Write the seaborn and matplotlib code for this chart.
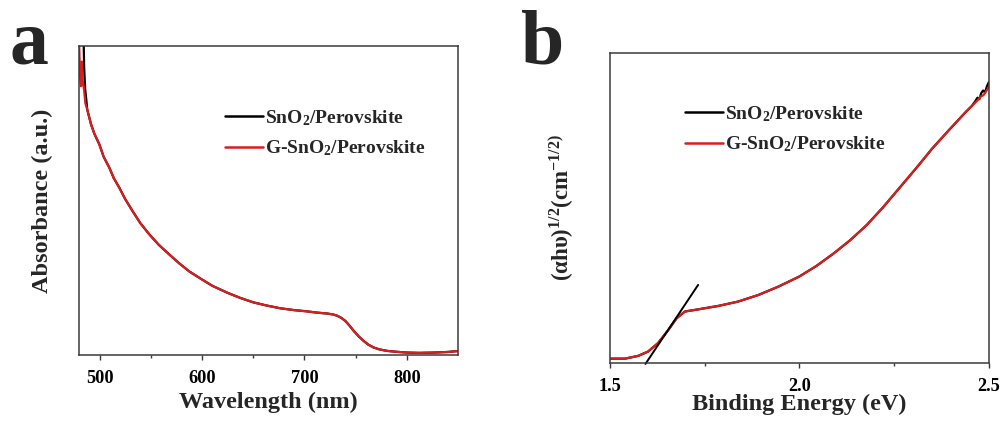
import numpy as np
import pandas as pd
import matplotlib
matplotlib.use("Agg")
import matplotlib.pyplot as plt
import seaborn as sns

# ---------------- data ----------------
# Panel a: absorbance (normalised units) vs wavelength (nm)
wl_head_black = [484.3, 485.0, 486.0, 487.0]
abs_head_black = [1.05, 0.93, 0.86, 0.83]
wl_head_red = [480.0, 481.0, 482.0, 482.8, 483.5, 484.2, 485.2, 486.2]
abs_head_red = [1.02, 0.90, 0.87, 0.95, 0.89, 0.877, 0.85, 0.815]
wl_common = [488.0, 491.7, 495.0, 499.8, 504.0, 509.6, 514.0, 519.4, 525.0,
             532.4, 540.0, 548.7, 558.0, 568.2, 578.0, 587.8, 598.2, 610.0,
             624.3, 637.0, 650.3, 663.0, 676.4, 690.0, 702.5, 712.0, 722.1,
             728.0, 731.9, 736.0, 740.0, 744.0, 748.1, 753.0, 757.9, 762.5,
             767.6, 773.0, 780.7, 790.0, 800.3, 812.0, 826.3, 840.0, 851.7]
abs_common = [0.795, 0.747, 0.716, 0.682, 0.642, 0.606, 0.572, 0.541, 0.505,
              0.465, 0.426, 0.390, 0.356, 0.325, 0.296, 0.270, 0.248, 0.224,
              0.202, 0.185, 0.170, 0.160, 0.151, 0.145, 0.141, 0.137, 0.134,
              0.131, 0.127, 0.120, 0.110, 0.095, 0.078, 0.060, 0.045, 0.033,
              0.024, 0.018, 0.013, 0.010, 0.0075, 0.0065, 0.0075, 0.0095, 0.013]

# Panel b: (alpha h nu)^1/2 (normalised units) vs energy (eV)
e_common = [1.50, 1.54, 1.575, 1.601, 1.627, 1.654, 1.676, 1.698, 1.733,
            1.786, 1.838, 1.891, 1.944, 2.000, 2.045, 2.089, 2.133, 2.177,
            2.220, 2.265, 2.310, 2.350, 2.396, 2.440, 2.455]
t_common = [0.013, 0.013, 0.022, 0.036, 0.063, 0.105, 0.143, 0.165, 0.172,
            0.183, 0.197, 0.218, 0.245, 0.278, 0.312, 0.351, 0.394, 0.443,
            0.500, 0.565, 0.630, 0.690, 0.752, 0.810, 0.828]
e_tail_black = [2.465, 2.47, 2.475, 2.48, 2.485, 2.49, 2.495, 2.50]
t_tail_black = [0.845, 0.855, 0.850, 0.870, 0.878, 0.872, 0.892, 0.905]
e_tail_red = [2.465, 2.47, 2.48, 2.485, 2.49, 2.495, 2.50]
t_tail_red = [0.840, 0.846, 0.860, 0.862, 0.870, 0.880, 0.890]
# linear fit (Tauc tangent)
fit_e = [1.594, 1.733]
fit_t = [-0.004, 0.251]

labels = ["SnO$_2$/Perovskite", "G-SnO$_2$/Perovskite"]
colors = ["black", "#d81e1e"]

# ---------------- style ----------------
sns.set_style("ticks")
plt.rcParams["font.family"] = ["Liberation Serif", "DejaVu Serif"]
plt.rcParams["font.weight"] = "bold"
plt.rcParams["mathtext.fontset"] = "custom"
plt.rcParams["mathtext.rm"] = "Liberation Serif:bold"
plt.rcParams["mathtext.it"] = "Liberation Serif:bold:italic"
plt.rcParams["mathtext.bf"] = "Liberation Serif:bold"
plt.rcParams["axes.edgecolor"] = "#3a3a3a"
plt.rcParams["axes.linewidth"] = 1.1

fig = plt.figure(figsize=(10.08, 4.23), dpi=100)
axa = fig.add_axes([0.0784, 0.161, 0.376, 0.730])
axb = fig.add_axes([0.605, 0.1426, 0.376, 0.7328])

lw = 1.6
# panel a
df_a_black = pd.DataFrame({"x": wl_head_black + wl_common, "y": abs_head_black + abs_common})
df_a_red = pd.DataFrame({"x": wl_head_red + wl_common, "y": abs_head_red + abs_common})
sns.lineplot(data=df_a_black, x="x", y="y", color=colors[0], lw=lw, ax=axa, label=labels[0])
sns.lineplot(data=df_a_red, x="x", y="y", color=colors[1], lw=lw, ax=axa, label=labels[1])
axa.set_xlim(480, 850)
axa.set_ylim(0, 1.0)
axa.set_xticks([500, 600, 700, 800])
axa.set_xticks([550, 650, 750], minor=True)

# panel b
df_b_black = pd.DataFrame({"x": e_common + e_tail_black, "y": t_common + t_tail_black})
df_b_red = pd.DataFrame({"x": e_common + e_tail_red, "y": t_common + t_tail_red})
sns.lineplot(data=df_b_black, x="x", y="y", color=colors[0], lw=lw, ax=axb, label=labels[0])
sns.lineplot(data=df_b_red, x="x", y="y", color=colors[1], lw=lw, ax=axb, label=labels[1])
axb.plot(fit_e, fit_t, color="black", lw=1.4, clip_on=False)
axb.set_xlim(1.5, 2.5)
axb.set_ylim(0, 1.0)
axb.set_xticks([1.5, 2.0, 2.5])
axb.set_xticklabels(["1.5", "2.0", "2.5"])
axb.set_xticks([1.75, 2.25], minor=True)

for ax in (axa, axb):
    for s in ax.spines.values():
        s.set_visible(True)
    ax.set_yticks([])
    ax.tick_params(axis="x", which="major", direction="out", length=3.5, width=1.0,
                   pad=7.5, labelsize=13.2, colors="#3a3a3a", labelcolor="black")
    ax.tick_params(axis="x", which="minor", direction="out", length=2.5, width=1.0,
                   colors="#3a3a3a")
    for t in ax.get_xticklabels():
        t.set_fontweight("bold")

axa.set_xlabel("Wavelength (nm)", fontsize=17.5, fontweight="bold")
axa.set_ylabel("Absorbance (a.u.)", fontsize=17.5, fontweight="bold")
axa.xaxis.set_label_coords(0.5, -0.12)
axa.yaxis.set_label_coords(-0.068, 0.5)

axb.set_xlabel("Binding Energy (eV)", fontsize=17.5, fontweight="bold")
axb.set_ylabel("(αhυ)$^{1/2}$(cm$^{-1/2)}$", fontsize=16.5, fontweight="bold")
axb.xaxis.set_label_coords(0.5, -0.1)
axb.yaxis.set_label_coords(-0.088, 0.5)

leg_a = axa.legend(loc="upper left", bbox_to_anchor=(0.385, 0.80), frameon=False,
                   fontsize=14, handlelength=1.95, handletextpad=0.1,
                   borderaxespad=0, borderpad=0, labelspacing=0.56)
leg_b = axb.legend(loc="upper left", bbox_to_anchor=(0.198, 0.835), frameon=False,
                   fontsize=14, handlelength=1.95, handletextpad=0.1,
                   borderaxespad=0, borderpad=0, labelspacing=0.56)
for leg in (leg_a, leg_b):
    for line in leg.get_lines():
        line.set_linewidth(1.8)

fig.text(0.009, 1 - 63 / 423, "a", fontsize=56, fontweight="bold", va="baseline", ha="left")
fig.text(0.517, 1 - 63 / 423, "b", fontsize=56, fontweight="bold", va="baseline", ha="left")

fig.savefig("out.png", dpi=100)
